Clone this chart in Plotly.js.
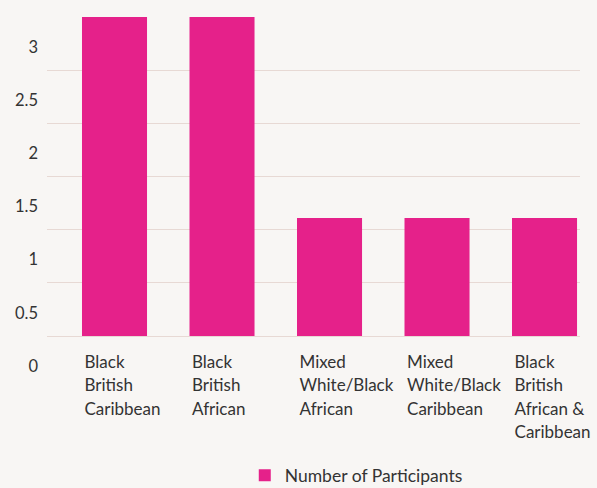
<!DOCTYPE html>
<html>
<head>
<meta charset="utf-8">
<script src="https://cdn.plot.ly/plotly-3.0.1.min.js"></script>
<style>
  html, body { margin: 0; padding: 0; background: #f8f6f4; }
  #chart { width: 597px; height: 488px; }
</style>
</head>
<body>
<div id="chart"></div>
<script>
var categories = [
  'Black British Caribbean',
  'Black British African',
  'Mixed White/Black African',
  'Mixed White/Black Caribbean',
  'Black British African & Caribbean'
];
var tickLabelLines = [
  ['Black', 'British', 'Caribbean'],
  ['Black', 'British', 'African'],
  ['Mixed', 'White/Black', 'African'],
  ['Mixed', 'White/Black', 'Caribbean'],
  ['Black', 'British', 'African &amp;', 'Caribbean']
];
var participants = [3, 3, 1.11, 1.11, 1.11];
var seriesName = 'Number of Participants';
var yTickVals = [0, 0.5, 1, 1.5, 2, 2.5, 3];
var yTickText = ['0', '0.5', '1', '1.5', '2', '2.5', '3'];

var pink = '#e5218a';
var textColor = '#333333';
var gridColor = '#e7d9d4';
var fontFamily = 'Lato, "Open Sans", sans-serif';

var tickText = tickLabelLines.map(function (lines) {
  return lines.map(function (l) {
    return '<span style="font-size:17px">' + l + '</span>';
  }).join('<br>');
});

var trace = {
  type: 'bar',
  x: categories,
  y: participants,
  name: seriesName,
  width: 0.605,
  marker: { color: pink },
  showlegend: true,
  hoverinfo: 'x+y'
};

var layout = {
  width: 597,
  height: 488,
  paper_bgcolor: '#f8f6f4',
  plot_bgcolor: '#f8f6f4',
  margin: { l: 47, r: 17, t: 17, b: 152, autoexpand: false },
  font: { family: fontFamily, color: textColor, size: 16 },
  showlegend: true,
  xaxis: {
    type: 'category',
    range: [-0.628, 4.33],
    tickvals: categories,
    ticktext: tickText,
    showgrid: false,
    zeroline: false,
    showline: false,
    ticks: '',
    ticklabelposition: 'outside right',
    ticklabelshift: -30,
    ticklabelstandoff: 13,
    tickfont: { family: fontFamily, size: 18, color: textColor },
    fixedrange: true
  },
  yaxis: {
    range: [0, 3],
    tickvals: yTickVals,
    ticktext: yTickText,
    showgrid: true,
    gridcolor: gridColor,
    gridwidth: 1,
    zeroline: true,
    zerolinecolor: gridColor,
    zerolinewidth: 1,
    showline: false,
    ticks: '',
    ticklabelshift: 30,
    ticklabelstandoff: 8,
    tickfont: { family: fontFamily, size: 16.5, color: textColor },
    fixedrange: true
  },
  legend: {
    orientation: 'h',
    xref: 'container',
    yref: 'container',
    x: 0.41,
    xanchor: 'left',
    y: 0.063,
    yanchor: 'top',
    font: { family: fontFamily, size: 17.5, color: textColor },
    bgcolor: 'rgba(0,0,0,0)'
  }
};

Plotly.newPlot('chart', [trace], layout, { displayModeBar: false, responsive: false });
</script>
</body>
</html>
